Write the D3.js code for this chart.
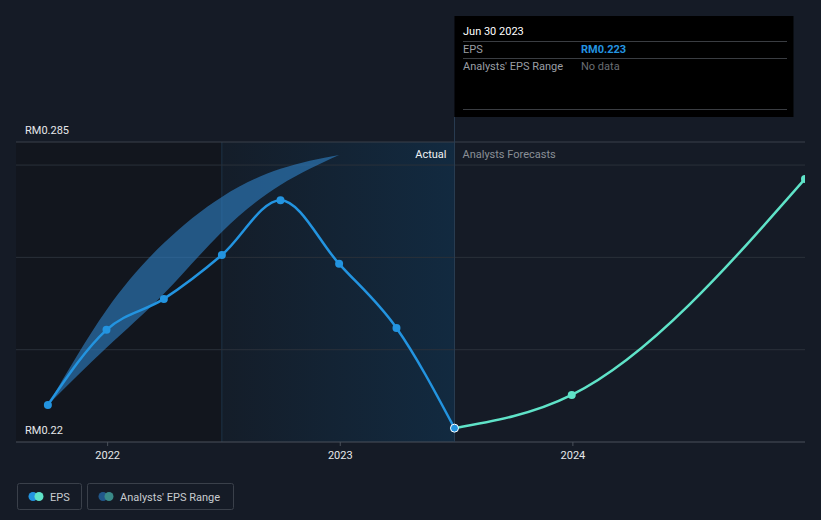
<!DOCTYPE html>
<html>
<head>
<meta charset="utf-8">
<script src="https://cdn.jsdelivr.net/npm/d3@7"></script>
<style>
  body { margin: 0; background: #151b26; }
  svg { display: block; font-family: Roboto, "Noto Sans", sans-serif; }
</style>
</head>
<body>
<div id="chart"></div>
<script>
// data
const actualDates = ["2021-09-30", "2021-12-31", "2022-03-31", "2022-06-30", "2022-09-30", "2022-12-31", "2023-03-31", "2023-06-30"];
const actualEps = [0.228, 0.2443, 0.251, 0.2605, 0.2724, 0.2586, 0.2447, 0.223];

const forecastDates = ["2023-06-30", "2023-12-31", "2024-12-31"];
const forecastEps = [0.223, 0.2302, 0.277];

const rangeDates = ["2021-09-30", "2021-12-31", "2022-03-31", "2022-06-30", "2022-09-30", "2022-12-31"];
const rangeLow = [0.228, 0.2404, 0.2521, 0.2655, 0.2757, 0.2822];
const rangeHigh = [0.228, 0.2486, 0.2631, 0.2731, 0.2792, 0.2822];

const gridValues = [0.24, 0.26, 0.28];
const yearTicks = ["2022-01-01", "2023-01-01", "2024-01-01"];

const width = 821, height = 520;
const parse = d3.timeParse("%Y-%m-%d");

const svg = d3.select("#chart").append("svg")
    .attr("width", width)
    .attr("height", height);

const x = d3.scaleTime()
    .domain([parse("2021-08-11"), parse("2024-12-31")])
    .range([16, 805]);
const y = d3.scaleLinear()
    .domain([0.22, 0.285])
    .range([442, 142]);

const pastStart = parse("2022-06-30");
const today = parse("2023-06-30");

// background panels
const defs = svg.append("defs");
const grad = defs.append("linearGradient").attr("id", "pastGrad");
grad.append("stop").attr("offset", "0%").attr("stop-color", "#141d29");
grad.append("stop").attr("offset", "100%").attr("stop-color", "#122a40");

defs.append("clipPath").attr("id", "plotClip")
  .append("rect").attr("x", 16).attr("y", 100).attr("width", 789).attr("height", 350);

svg.append("rect")
    .attr("x", 16).attr("y", 142)
    .attr("width", x(pastStart) - 16).attr("height", 300)
    .attr("fill", "#12161e");
svg.append("rect")
    .attr("x", x(pastStart)).attr("y", 142)
    .attr("width", x(today) - x(pastStart)).attr("height", 300)
    .attr("fill", "url(#pastGrad)");
svg.append("line")
    .attr("x1", x(pastStart)).attr("x2", x(pastStart))
    .attr("y1", 142).attr("y2", 442)
    .attr("stroke", "#1c3347").attr("stroke-width", 1);

// gridlines
svg.selectAll(".grid")
  .data(gridValues)
  .enter().append("line")
    .attr("class", "grid")
    .attr("x1", 16).attr("x2", 805)
    .attr("y1", d => y(d)).attr("y2", d => y(d))
    .attr("stroke", "#2a303a").attr("stroke-width", 1);

svg.append("line")
    .attr("x1", 16).attr("x2", 805)
    .attr("y1", y(0.285)).attr("y2", y(0.285))
    .attr("stroke", "#3a404a");

// x axis
const xAxis = svg.append("g")
    .attr("transform", "translate(0,442)")
    .call(d3.axisBottom(x)
        .tickValues(yearTicks.map(parse))
        .tickFormat(d3.timeFormat("%Y"))
        .tickSize(4)
        .tickPadding(5));
xAxis.select(".domain").attr("stroke", "#4a505a").attr("d", "M16,0H805");
xAxis.selectAll(".tick line").attr("stroke", "#4a505a").attr("y1", 0).attr("y2", 4);
xAxis.selectAll(".tick text")
    .attr("fill", "#e6e8ea")
    .attr("font-size", "11px")
    .attr("font-family", "Roboto, sans-serif");

// y labels
svg.append("text").attr("x", 25).attr("y", 134)
    .attr("fill", "#e6e8ea").attr("font-size", "11px")
    .text("RM" + 0.285);
svg.append("text").attr("x", 25).attr("y", 434)
    .attr("fill", "#e6e8ea").attr("font-size", "11px")
    .text("RM" + 0.22);

// tooltip vertical line
svg.append("line")
    .attr("x1", x(today)).attr("x2", x(today))
    .attr("y1", 117).attr("y2", 442)
    .attr("stroke", "#2a3d52").attr("stroke-width", 1);

svg.append("text").attr("x", x(today) - 8).attr("y", 158)
    .attr("text-anchor", "end")
    .attr("fill", "#f0f2f4").attr("font-size", "11px")
    .text("Actual");
svg.append("text").attr("x", x(today) + 8).attr("y", 158)
    .attr("fill", "#8a8f96").attr("font-size", "11px")
    .text("Analysts Forecasts");

const plot = svg.append("g").attr("clip-path", "url(#plotClip)");

// analysts range band
const rangeData = rangeDates.map((d, i) => ({ date: parse(d), lo: rangeLow[i], hi: rangeHigh[i] }));
plot.append("path")
    .datum(rangeData)
    .attr("fill", "#2e80c4")
    .attr("fill-opacity", 0.62)
    .attr("d", d3.area()
        .curve(d3.curveNatural)
        .x(d => x(d.date))
        .y0(d => y(d.lo))
        .y1(d => y(d.hi)));

// EPS line
const actualData = actualDates.map((d, i) => ({ date: parse(d), v: actualEps[i] }));
const forecastData = forecastDates.map((d, i) => ({ date: parse(d), v: forecastEps[i] }));

const line = d3.line()
    .curve(d3.curveMonotoneX)
    .x(d => x(d.date))
    .y(d => y(d.v));

plot.append("path")
    .datum(forecastData)
    .attr("fill", "none")
    .attr("stroke", "#5fe3c8")
    .attr("stroke-width", 2.5)
    .attr("d", line);

plot.selectAll(".fdot")
  .data(forecastData.slice(1))
  .enter().append("circle")
    .attr("class", "fdot")
    .attr("cx", d => x(d.date)).attr("cy", d => y(d.v))
    .attr("r", 4)
    .attr("fill", "#5fe3c8");

plot.append("path")
    .datum(actualData)
    .attr("fill", "none")
    .attr("stroke", "#2394e0")
    .attr("stroke-width", 2.5)
    .attr("d", line);

plot.selectAll(".adot")
  .data(actualData)
  .enter().append("circle")
    .attr("class", "adot")
    .attr("cx", d => x(d.date)).attr("cy", d => y(d.v))
    .attr("r", 4)
    .attr("fill", "#2394e0")
    .attr("stroke", (d, i) => i === actualData.length - 1 ? "#ffffff" : "none")
    .attr("stroke-width", 1);

// tooltip box
const tip = svg.append("g");
tip.append("rect")
    .attr("x", x(today)).attr("y", 16)
    .attr("width", 339).attr("height", 101)
    .attr("fill", "#000000");
tip.append("text").attr("x", 463).attr("y", 35)
    .attr("fill", "#ffffff").attr("font-size", "11px")
    .text("Jun 30 2023");
[41, 58, 109].forEach(yy => {
  tip.append("line")
      .attr("x1", 463).attr("x2", 787)
      .attr("y1", yy + 0.5).attr("y2", yy + 0.5)
      .attr("stroke", "#3a3d42");
});
tip.append("text").attr("x", 463).attr("y", 53)
    .attr("fill", "#9a9ea4").attr("font-size", "11px")
    .text("EPS");
tip.append("text").attr("x", 581).attr("y", 53)
    .attr("fill", "#2394e0").attr("font-size", "11px").attr("font-weight", "bold")
    .text("RM" + actualEps[actualEps.length - 1]);
tip.append("text").attr("x", 463).attr("y", 70)
    .attr("fill", "#9a9ea4").attr("font-size", "11px")
    .text("Analysts' EPS Range");
tip.append("text").attr("x", 581).attr("y", 70)
    .attr("fill", "#6a6e74").attr("font-size", "11px")
    .text("No data");

// legend
const legend = svg.append("g");
const items = [
  { label: "EPS", x: 17, w: 64, c1: "#2394e0", c2: "#5fe3c8" },
  { label: "Analysts' EPS Range", x: 87, w: 146, c1: "#21578a", c2: "#3a8a88" }
];
items.forEach(it => {
  legend.append("rect")
      .attr("x", it.x + 0.5).attr("y", 483.5)
      .attr("width", it.w).attr("height", 26)
      .attr("rx", 2)
      .attr("fill", "none")
      .attr("stroke", "#3a404a");
  legend.append("circle").attr("cx", it.x + 16).attr("cy", 496.5).attr("r", 4.5).attr("fill", it.c1);
  legend.append("circle").attr("cx", it.x + 22).attr("cy", 496.5).attr("r", 4.5).attr("fill", it.c2);
  legend.append("text")
      .attr("x", it.x + 33).attr("y", 500.5)
      .attr("fill", "#c8ccd0").attr("font-size", "11px")
      .text(it.label);
});
</script>
</body>
</html>
